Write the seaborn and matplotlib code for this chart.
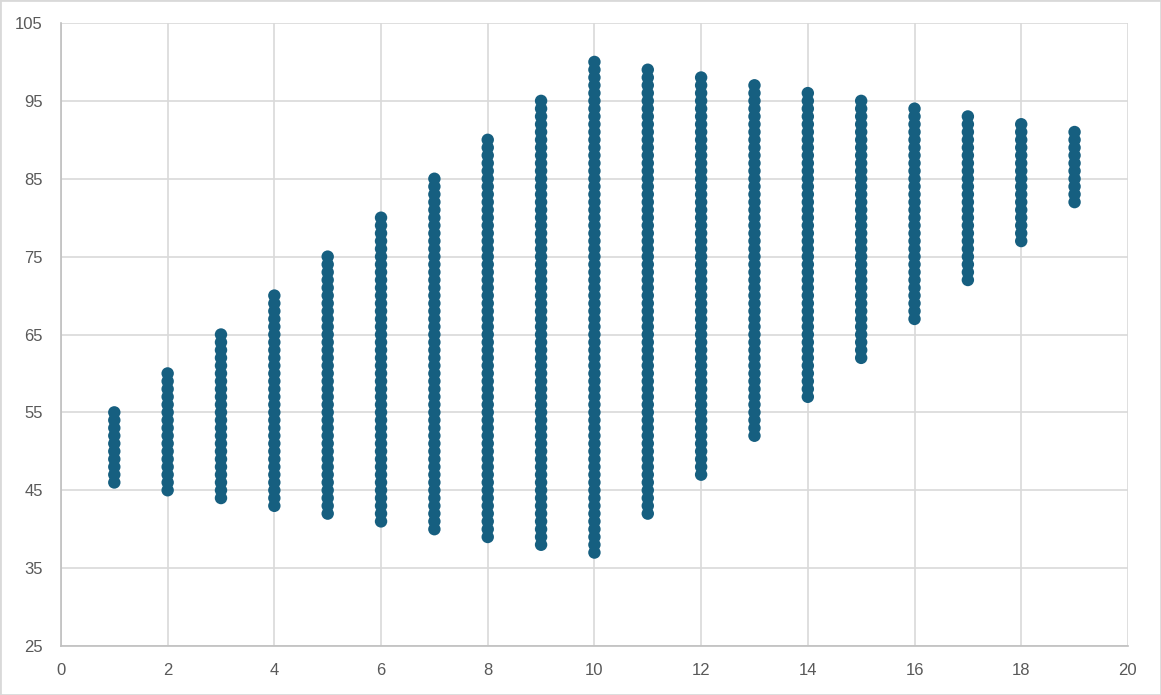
import numpy as np
import pandas as pd
import matplotlib
matplotlib.use("Agg")
import matplotlib.pyplot as plt
import seaborn as sns

# columns: x position, lowest and highest point (every integer in between is plotted)
x_vals = [1, 2, 3, 4, 5, 6, 7, 8, 9, 10, 11, 12, 13, 14, 15, 16, 17, 18, 19]
y_low = [46, 45, 44, 43, 42, 41, 40, 39, 38, 37, 42, 47, 52, 57, 62, 67, 72, 77, 82]
y_high = [55, 60, 65, 70, 75, 80, 85, 90, 95, 100, 99, 98, 97, 96, 95, 94, 93, 92, 91]

x_ticks = [0, 2, 4, 6, 8, 10, 12, 14, 16, 18, 20]
y_ticks = [25, 35, 45, 55, 65, 75, 85, 95, 105]

rows = []
for x, lo, hi in zip(x_vals, y_low, y_high):
    for y in range(lo, hi + 1):
        rows.append((x, y))
df = pd.DataFrame(rows, columns=["x", "y"])

sns.set_style("white")
plt.rcParams['font.family'] = ['Liberation Sans', 'DejaVu Sans']

fig = plt.figure(figsize=(11.61, 6.95), dpi=100)
ax = fig.add_axes([0.0525, 0.0705, 0.919, 0.8964])

sns.scatterplot(data=df, x="x", y="y", ax=ax, color="#165f80", s=80,
                edgecolor="none", zorder=3, legend=False)

ax.set_xlim(0, 20)
ax.set_ylim(25, 105)
ax.set_xticks(x_ticks)
ax.set_yticks(y_ticks)
ax.grid(True, color="#d9d9d9", linewidth=1.2)
ax.set_axisbelow(True)
ax.tick_params(axis="both", length=0, labelsize=12, colors="#595959")
ax.tick_params(axis="y", pad=13)
ax.tick_params(axis="x", pad=12)
ax.set_xlabel("")
ax.set_ylabel("")
for side in ["top", "right"]:
    ax.spines[side].set_visible(False)
for side in ["left", "bottom"]:
    ax.spines[side].set_color("#bfbfbf")
    ax.spines[side].set_linewidth(1.2)

# light border around the whole chart
fig.patches.append(plt.Rectangle((0, 0), 1, 1, transform=fig.transFigure,
                                 fill=False, edgecolor="#d9d9d9", linewidth=2))

fig.savefig("out.png", dpi=100)
